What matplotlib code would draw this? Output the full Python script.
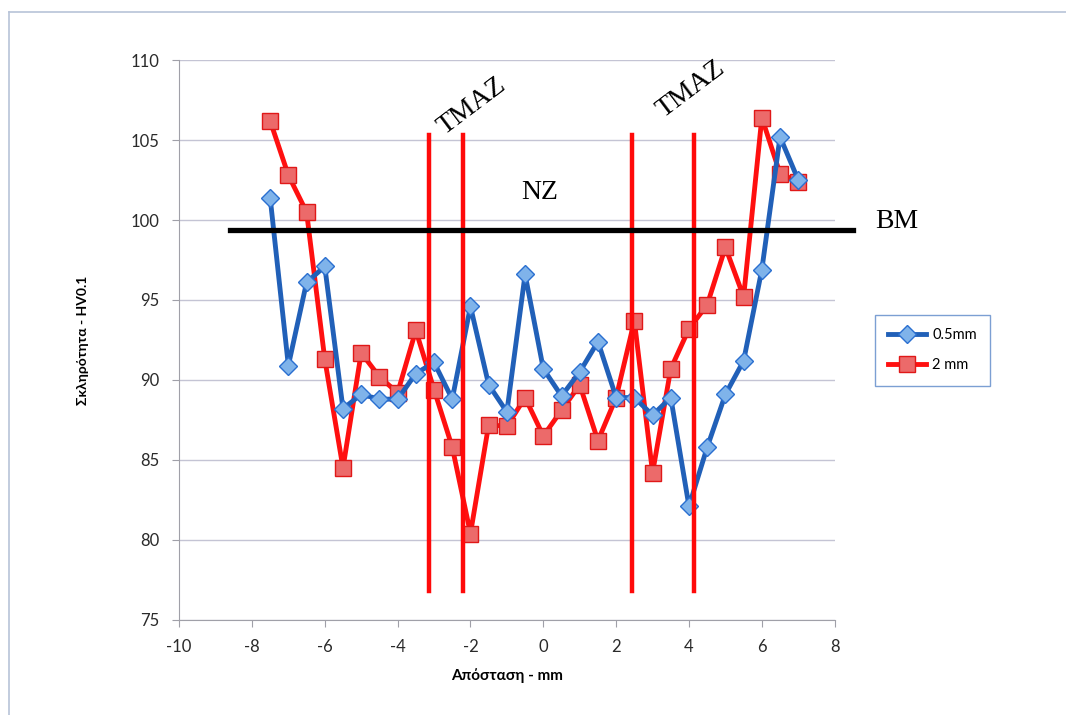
import numpy as np
import matplotlib
matplotlib.use('Agg')
import matplotlib.pyplot as plt
from matplotlib.lines import Line2D

plt.rcParams['axes.unicode_minus'] = False

# hardness profile
x_pos = [-7.5, -7, -6.5, -6, -5.5, -5, -4.5, -4, -3.5, -3, -2.5, -2, -1.5, -1, -0.5,
         0, 0.5, 1, 1.5, 2, 2.5, 3, 3.5, 4, 4.5, 5, 5.5, 6, 6.5, 7]
hv_05mm = [101.4, 90.9, 96.1, 97.1, 88.2, 89.1, 88.8, 88.8, 90.4, 91.1, 88.8, 94.6, 89.7, 88.0, 96.6,
           90.7, 89.0, 90.5, 92.4, 88.9, 88.9, 87.8, 88.9, 82.1, 85.8, 89.1, 91.2, 96.9, 105.2, 102.5]
hv_2mm = [106.2, 102.8, 100.5, 91.3, 84.5, 91.7, 90.2, 89.2, 93.1, 89.4, 85.8, 80.4, 87.2, 87.1, 88.9,
          86.5, 88.1, 89.7, 86.2, 88.9, 93.7, 84.2, 90.7, 93.2, 94.7, 98.3, 95.2, 106.4, 102.9, 102.4]

bm_level = 99.4
bm_x = [-8.6, 8.5]
zone_x = [-3.13, -2.2, 2.44, 4.14]
zone_y = [76.8, 105.3]

fig = plt.figure(figsize=(10.66, 7.15), dpi=100)
ax = fig.add_axes([0.168, 0.133, 0.615, 0.783])

# excel-ish chart frame
fig.add_artist(Line2D([9/1066, 1.0], [1-12/715, 1-12/715], color='#b8c4d8', lw=1.2))
fig.add_artist(Line2D([9/1066, 9/1066], [1-12/715, 0.0], color='#b8c4d8', lw=1.2))

ax.plot(x_pos, hv_05mm, color='#2160b8', lw=3.5, marker='D', ms=9,
        mfc='#7fb3ea', mec='#2a6fd0', mew=1.0, label='0.5mm', zorder=4)
ax.plot(x_pos, hv_2mm, color='#ff1010', lw=3.5, marker='s', ms=11.5,
        mfc='#ec6a6a', mec='#e01818', mew=1.0, label='2 mm', zorder=3)

for zx in zone_x:
    ax.plot([zx, zx], zone_y, color='#ff0a0a', lw=3.2, zorder=5)
ax.plot(bm_x, [bm_level, bm_level], color='black', lw=3.8, zorder=6, clip_on=False)

serif = 'Liberation Serif'
ax.text(-1.95, 107.1, 'TMAZ', fontsize=20, family=serif, rotation=37, ha='center', va='center')
ax.text(4.05, 108.2, 'TMAZ', fontsize=20, family=serif, rotation=37, ha='center', va='center')
ax.text(-0.1, 101.7, 'NZ', fontsize=20, family=serif, ha='center', va='center')
ax.text(9.7, 99.9, 'BM', fontsize=20, family=serif, ha='center', va='center', clip_on=False)

ax.set_xlim(-10, 8)
ax.set_ylim(75, 110)
ax.set_xticks(np.arange(-10, 9, 2))
ax.set_yticks(np.arange(75, 111, 5))
ax.yaxis.grid(True, color='#c4c4d4', lw=1.0)
ax.set_axisbelow(True)
for s in ['top', 'right']:
    ax.spines[s].set_visible(False)
for s in ['left', 'bottom']:
    ax.spines[s].set_color('#a0a0a8')
ax.tick_params(colors='#a0a0a8', labelcolor='#2a2a2a', labelsize=12, length=5, pad=9)
for lab in ax.get_xticklabels() + ax.get_yticklabels():
    lab.set_family('Lato')

ax.set_xlabel('Απόσταση - mm', fontsize=11, fontweight='bold', family='Lato', labelpad=9)
ax.set_ylabel('Σκληρότητα - HV0.1', fontsize=10, fontweight='bold', family='Lato', labelpad=30)

leg = fig.legend(loc='upper left', bbox_to_anchor=(868/1066, 1-308/715), frameon=True,
                 fancybox=False, prop={'family': 'Lato', 'size': 10.5}, handlelength=2.6,
                 borderpad=0.9, labelspacing=1.1, handletextpad=0.4)
leg.get_frame().set_edgecolor('#5b87c8')
leg.get_frame().set_linewidth(1.0)

fig.savefig('out.png', dpi=100)
